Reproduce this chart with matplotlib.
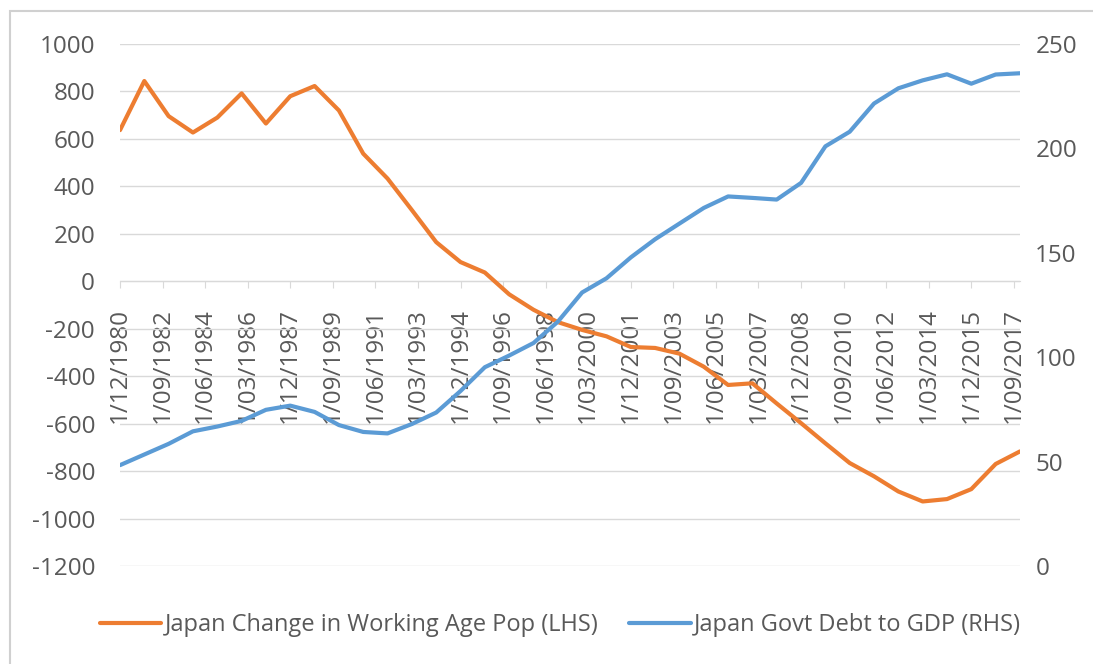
import pandas as pd
import matplotlib
matplotlib.use("Agg")
import matplotlib.pyplot as plt
from matplotlib.patches import Rectangle

plt.rcParams['font.family'] = ['Open Sans', 'DejaVu Sans']
plt.rcParams['axes.unicode_minus'] = False

# annual observations, December of each year
years = list(range(1980, 2018))
working_age_change = [637, 844, 696, 627, 690, 792, 665, 780, 823, 720,
                      538, 433, 300, 165, 81, 37, -55, -120, -172, -205,
                      -232, -277, -281, -305, -360, -437, -430, -515, -598, -683,
                      -766, -822, -886, -928, -918, -876, -770, -717]
debt_to_gdp = [48.3, 53.4, 58.5, 64.5, 66.8, 69.5, 74.8, 76.8, 73.8, 67.5,
               64.2, 63.5, 68.0, 73.5, 83.8, 95.2, 100.8, 106.8, 117.0, 131.0,
               137.8, 147.8, 156.5, 164.0, 171.5, 177.0, 176.3, 175.5, 183.5, 201.0,
               208.0, 221.5, 228.8, 232.6, 235.5, 231.0, 235.4, 236.0]
tick_labels = ['1/12/1980', '1/09/1982', '1/06/1984', '1/03/1986', '1/12/1987',
               '1/09/1989', '1/06/1991', '1/03/1993', '1/12/1994', '1/09/1996',
               '1/06/1998', '1/03/2000', '1/12/2001', '1/09/2003', '1/06/2005',
               '1/03/2007', '1/12/2008', '1/09/2010', '1/06/2012', '1/03/2014',
               '1/12/2015', '1/09/2017']
lhs_name = 'Japan Change in Working Age Pop (LHS)'
rhs_name = 'Japan Govt Debt to GDP (RHS)'

dates = pd.to_datetime([f'{y}-12-01' for y in years])
tick_dates = pd.to_datetime(tick_labels, format='%d/%m/%Y')

orange = '#ED7D31'
blue = '#5B9BD5'
grid = '#d9d9d9'
txt = '#595959'

fig = plt.figure(figsize=(10.93, 6.64), dpi=100)
ax = fig.add_axes([0.1098, 0.1476, 0.8234, 0.7861])
ax2 = ax.twinx()

# outer chart border
fig.patches.append(Rectangle((10 / 1093, -0.05), 1.1, 1 - 11 / 664 + 0.05,
                             transform=fig.transFigure, fill=False,
                             edgecolor='#d0d0d0', lw=1.5))

l1, = ax.plot(dates, working_age_change, color=orange, lw=3, zorder=3,
              solid_capstyle='round', label=lhs_name)
l2, = ax2.plot(dates, debt_to_gdp, color=blue, lw=3, zorder=3,
               solid_capstyle='round', label=rhs_name)

ax.set_xlim(dates[0], dates[-1])
ax.set_ylim(-1200, 1000)
ax.set_yticks(range(-1200, 1001, 200))
ax2.set_ylim(0, 250)
ax2.set_yticks(range(0, 251, 50))

ax.yaxis.grid(True, color=grid, lw=1)
ax.set_axisbelow(True)

for a in (ax, ax2):
    for s in ('left', 'right', 'top'):
        a.spines[s].set_visible(False)
ax2.spines['bottom'].set_visible(False)
ax.spines['bottom'].set_position(('data', 0))
ax.spines['bottom'].set_color(grid)

ax.set_xticks(tick_dates)
ax.set_xticklabels(tick_labels, rotation=90, va='top', ha='center')
ax.tick_params(axis='x', length=5, color=grid, pad=14, labelsize=17.5, labelcolor=txt)
ax.tick_params(axis='y', length=0, pad=18, labelsize=17.5, labelcolor=txt)
ax2.tick_params(axis='y', length=0, pad=11, labelsize=17.5, labelcolor=txt)

fig.legend(handles=[l1, l2], loc='center', bbox_to_anchor=(0.513, 0.0587),
           ncol=2, frameon=False, fontsize=17, labelcolor=txt,
           handlelength=2.6, handletextpad=0.15, columnspacing=1.3)

fig.savefig('out.png', dpi=100)
